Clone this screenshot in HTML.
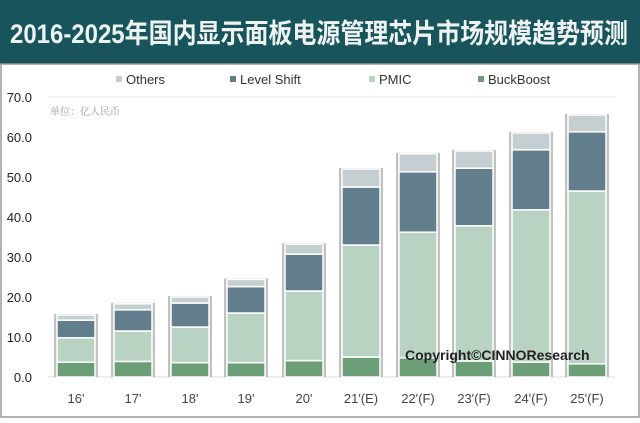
<!DOCTYPE html>
<html><head><meta charset="utf-8"><style>
body{margin:0;width:640px;height:418px;overflow:hidden;background:#fff;font-family:"Liberation Sans","Noto Sans CJK SC",sans-serif}
</style></head><body>
<svg width="640" height="418" xmlns="http://www.w3.org/2000/svg">
<rect x="0" y="0" width="640" height="64" fill="#17545b"/>
<text x="10" y="43" textLength="618" lengthAdjust="spacingAndGlyphs" font-size="27" font-weight="bold" fill="#eef3f2" font-family="Liberation Sans,Noto Sans CJK SC,sans-serif">2016-2025年国内显示面板电源管理芯片市场规模趋势预测</text>
<rect x="1" y="64" width="638" height="353" fill="#fff" stroke="#999" stroke-width="1.5"/>
<g font-size="13" fill="#333">
<rect x="116" y="76" width="6" height="6" fill="#c5cfd2"/><text x="126" y="84">Others</text>
<rect x="230" y="76" width="6" height="6" fill="#627e8c"/><text x="240" y="84">Level Shift</text>
<rect x="369" y="76" width="6" height="6" fill="#b9d3c2"/><text x="379" y="84">PMIC</text>
<rect x="478" y="76" width="6" height="6" fill="#6c9e77"/><text x="488" y="84">BuckBoost</text>
</g>
<line x1="48" y1="97" x2="615" y2="97" stroke="#e4e4e4"/>
<text x="50" y="115" font-size="10" fill="#999" font-family="Liberation Serif,Noto Serif CJK SC,serif">单位：亿人民币</text>
<g font-size="13" fill="#222" text-anchor="end">
<text x="32" y="102">70.0</text><text x="32" y="142">60.0</text><text x="32" y="182">50.0</text><text x="32" y="222">40.0</text><text x="32" y="262">30.0</text><text x="32" y="302">20.0</text><text x="32" y="342">10.0</text><text x="32" y="382">0.0</text>
</g>
<line x1="48" y1="377" x2="615" y2="377" stroke="#ddd"/>
<g fill="#999" opacity="0.6">
<rect x="54" y="314" width="44" height="63"/>
<rect x="111" y="302.8" width="44" height="74.2"/>
<rect x="168" y="296" width="44" height="81"/>
<rect x="224" y="278.4" width="44" height="98.6"/>
<rect x="282" y="243.2" width="44" height="133.8"/>
<rect x="339" y="168" width="44" height="209"/>
<rect x="396" y="152.8" width="44" height="224.2"/>
<rect x="452" y="150" width="44" height="227"/>
<rect x="509" y="132" width="44" height="245"/>
<rect x="565" y="114" width="44" height="263"/>
</g>
<g stroke="#fff" stroke-width="1.5">
<g fill="#6c9e77">
<rect x="57" y="362.2" width="38" height="14.8"/>
<rect x="114" y="361.4" width="38" height="15.6"/>
<rect x="171" y="362.6" width="38" height="14.4"/>
<rect x="227" y="362.6" width="38" height="14.4"/>
<rect x="285" y="360.6" width="38" height="16.4"/>
<rect x="342" y="357" width="38" height="20"/>
<rect x="399" y="357.8" width="38" height="19.2"/>
<rect x="455" y="361" width="38" height="16"/>
<rect x="512" y="362.2" width="38" height="14.8"/>
<rect x="568" y="363.8" width="38" height="13.2"/>
</g>
<g fill="#b9d3c2">
<rect x="57" y="337.8" width="38" height="24.4"/>
<rect x="114" y="331" width="38" height="30.4"/>
<rect x="171" y="327" width="38" height="35.6"/>
<rect x="227" y="313" width="38" height="49.6"/>
<rect x="285" y="291" width="38" height="69.6"/>
<rect x="342" y="245" width="38" height="112"/>
<rect x="399" y="232.2" width="38" height="125.6"/>
<rect x="455" y="225.8" width="38" height="135.2"/>
<rect x="512" y="209.8" width="38" height="152.4"/>
<rect x="568" y="191" width="38" height="172.8"/>
</g>
<g fill="#627e8c">
<rect x="57" y="320.2" width="38" height="17.6"/>
<rect x="114" y="309.8" width="38" height="21.2"/>
<rect x="171" y="303" width="38" height="24"/>
<rect x="227" y="286.6" width="38" height="26.4"/>
<rect x="285" y="254.2" width="38" height="36.8"/>
<rect x="342" y="187" width="38" height="58"/>
<rect x="399" y="171.8" width="38" height="60.4"/>
<rect x="455" y="168.2" width="38" height="57.6"/>
<rect x="512" y="149.8" width="38" height="60"/>
<rect x="568" y="131.8" width="38" height="59.2"/>
</g>
<g fill="#c5cfd2">
<rect x="57" y="315" width="38" height="5.2"/>
<rect x="114" y="303.8" width="38" height="6"/>
<rect x="171" y="297" width="38" height="6"/>
<rect x="227" y="279.4" width="38" height="7.2"/>
<rect x="285" y="244.2" width="38" height="10"/>
<rect x="342" y="169" width="38" height="18"/>
<rect x="399" y="153.8" width="38" height="18"/>
<rect x="455" y="151" width="38" height="17.2"/>
<rect x="512" y="133" width="38" height="16.8"/>
<rect x="568" y="115" width="38" height="16.8"/>
</g>
</g>
<g font-size="13" fill="#444" text-anchor="middle">
<text x="76" y="403">16'</text><text x="133" y="403">17'</text><text x="190" y="403">18'</text><text x="246" y="403">19'</text><text x="304" y="403">20'</text><text x="361" y="403">21'(E)</text><text x="418" y="403">22'(F)</text><text x="474" y="403">23'(F)</text><text x="531" y="403">24'(F)</text><text x="587" y="403">25'(F)</text>
</g>
<text x="405" y="360" font-size="14" font-weight="bold" fill="#222">Copyright©CINNOResearch</text>
</svg>
</body></html>
